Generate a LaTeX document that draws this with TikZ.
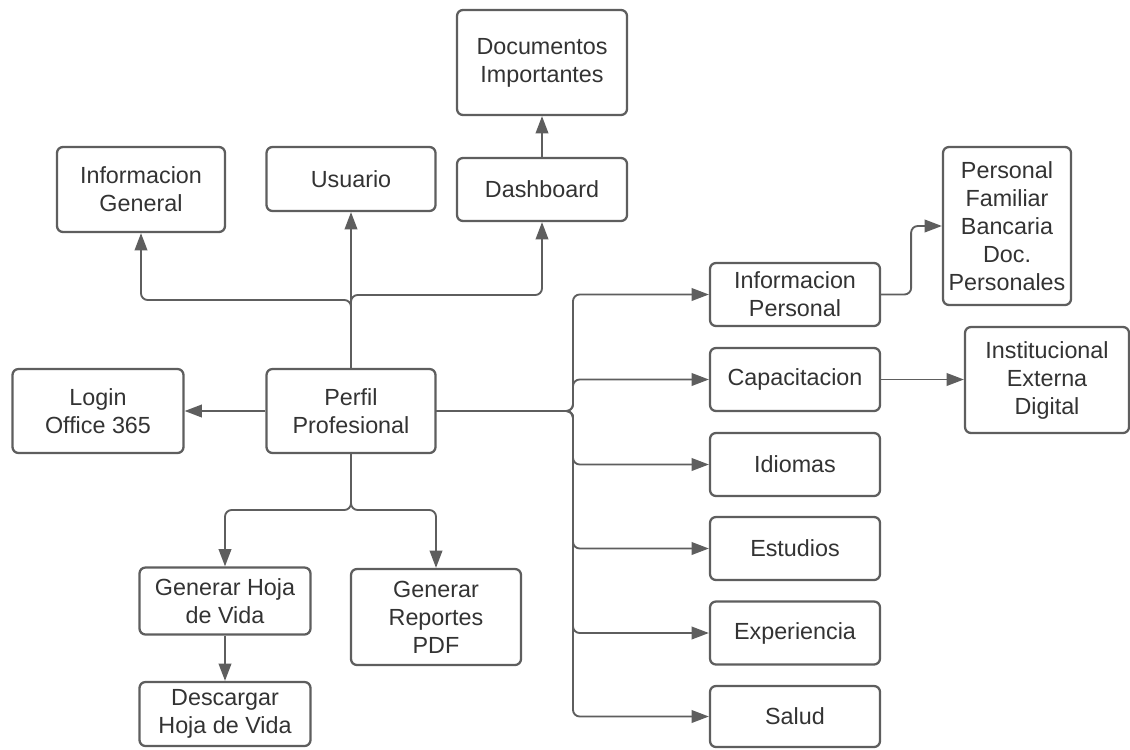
\documentclass[tikz,border=0pt]{standalone}
\usepackage{fontspec}
\setmainfont{Liberation Sans}
\usetikzlibrary{arrows.meta}
\definecolor{linegray}{HTML}{5E5E5E}
\definecolor{textgray}{HTML}{333333}
\tikzset{
  box/.style={draw=linegray, line width=1.7pt, rounded corners=4.5pt, fill=white,
    align=center, text=textgray, inner sep=0pt,
    font=\fontsize{17.5}{21}\selectfont},
  conn/.style={draw=linegray, line width=1.4pt, rounded corners=5pt},
  arr/.style={conn, -{Triangle[length=13pt,width=9.5pt]}}
}
\begin{document}
\begin{tikzpicture}[x=0.75pt,y=-0.75pt]
\useasboundingbox (0,0) rectangle (1130,749);
% nodes
\node[box, minimum width=170*0.75pt, minimum height=105*0.75pt] (doc) at (542,62.5) {Documentos\\Importantes};
\node[box, minimum width=168*0.75pt, minimum height=85*0.75pt] (ig) at (141,189.5) {Informacion\\General};
\node[box, minimum width=169*0.75pt, minimum height=64*0.75pt] (usu) at (351,179) {Usuario};
\node[box, minimum width=170*0.75pt, minimum height=63*0.75pt] (dash) at (542,189.5) {Dashboard};
\node[box, minimum width=169*0.75pt, minimum height=84*0.75pt] (perfil) at (351,411) {Perfil\\Profesional};
\node[box, minimum width=171*0.75pt, minimum height=84*0.75pt] (login) at (98,411) {Login\\Office 365};
\node[box, minimum width=171*0.75pt, minimum height=67*0.75pt] (ghv) at (225,601) {Generar Hoja\\de Vida};
\node[box, minimum width=171*0.75pt, minimum height=64*0.75pt] (dhv) at (225,714) {Descargar\\Hoja de Vida};
\node[box, minimum width=170*0.75pt, minimum height=96*0.75pt] (grp) at (436,617) {Generar\\Reportes\\PDF};
\node[box, minimum width=170*0.75pt, minimum height=63*0.75pt] (ip) at (795,294.5) {Informacion\\Personal};
\node[box, minimum width=170*0.75pt, minimum height=63*0.75pt] (cap) at (795,379.5) {Capacitacion};
\node[box, minimum width=170*0.75pt, minimum height=63*0.75pt] (idi) at (795,464.5) {Idiomas};
\node[box, minimum width=170*0.75pt, minimum height=63*0.75pt] (est) at (795,548.5) {Estudios};
\node[box, minimum width=170*0.75pt, minimum height=63*0.75pt] (exp) at (795,633) {Experiencia};
\node[box, minimum width=170*0.75pt, minimum height=61*0.75pt] (sal) at (795,716.5) {Salud};
\node[box, minimum width=128*0.75pt, minimum height=158*0.75pt] (pf) at (1007,226) {Personal\\Familiar\\Bancaria\\Doc.\\Personales};
\node[box, minimum width=164*0.75pt, minimum height=106*0.75pt] (ied) at (1047,380) {Institucional\\Externa\\Digital};
% junction coordinates
\coordinate (jl) at (351,300);
\coordinate (jd) at (351,295);
\coordinate (jb) at (351,510);
\coordinate (bus) at (573,411);
% connectors
\draw[arr] (dash.north) -- (doc.south);
\draw[arr] (perfil.north) -- (usu.south);
\draw[arr] (perfil.north) -- (jl) -| (ig.south);
\draw[arr] (perfil.north) -- (jd) -| (dash.south);
\draw[arr] (perfil.west) -- (login.east);
\draw[arr] (perfil.south) -- (jb) -| (ghv.north);
\draw[arr] (perfil.south) -- (jb) -| (grp.north);
\draw[arr] (ghv.south) -- (dhv.north);
\foreach \t in {ip,cap,idi,est,exp,sal}{
  \draw[arr] (perfil.east) -- (bus) |- (\t.west);
}
\draw[arr] (ip.east) -- ++(30,0) |- (pf.west);
\draw[arr] (cap.east) -- (cap.east -| ied.west);
\end{tikzpicture}
\end{document}
